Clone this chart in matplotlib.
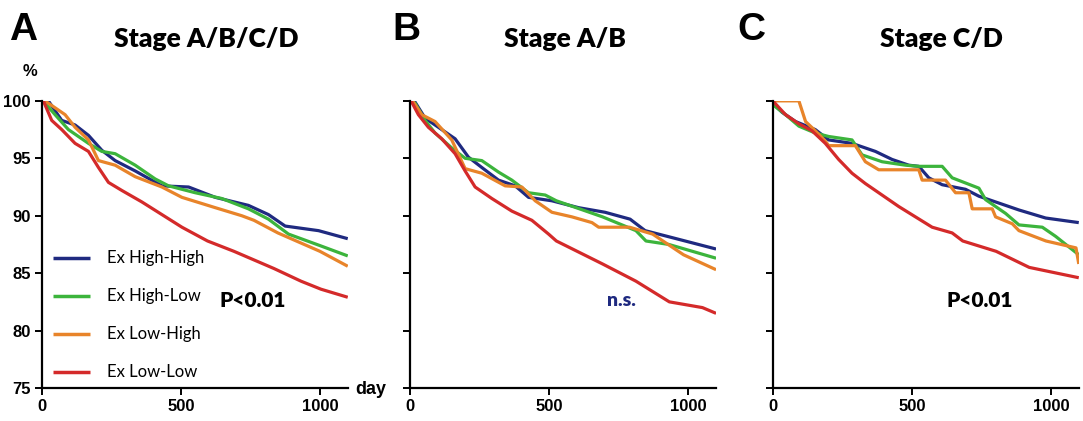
import matplotlib.pyplot as plt

# survival (%), per panel and group
groups = ['Ex High-High', 'Ex High-Low', 'Ex Low-High', 'Ex Low-Low']
colors = ['#1f2a80', '#3cb43c', '#e8842a', '#d42a2a']

a_days = {
    'Ex High-High': [0, 24, 72, 120, 168, 216, 264, 336, 432, 528, 624, 743, 815, 875, 995, 1100],
    'Ex High-Low': [0, 12, 48, 96, 168, 216, 264, 336, 408, 456, 552, 647, 743, 815, 887, 1000, 1100],
    'Ex Low-High': [0, 12, 48, 84, 120, 168, 204, 264, 336, 432, 504, 624, 719, 763, 849, 1000, 1100],
    'Ex Low-Low': [0, 6, 36, 72, 120, 168, 204, 240, 288, 360, 432, 504, 596, 691, 835, 932, 1004, 1100],
}
a_surv = {
    'Ex High-High': [100, 100, 98.3, 97.9, 97.0, 95.7, 94.8, 93.9, 92.6, 92.5, 91.6, 90.9, 90.1, 89.1, 88.7, 88.0],
    'Ex High-Low': [100, 99.8, 98.8, 97.5, 96.3, 95.6, 95.4, 94.4, 93.2, 92.6, 92.0, 91.5, 90.6, 89.7, 88.4, 87.4, 86.5],
    'Ex Low-High': [100, 100, 99.4, 98.8, 97.7, 96.6, 94.8, 94.4, 93.4, 92.5, 91.6, 90.7, 90.0, 89.6, 88.5, 86.9, 85.6],
    'Ex Low-Low': [100, 100, 98.3, 97.5, 96.3, 95.6, 94.2, 92.9, 92.2, 91.2, 90.1, 89.0, 87.8, 86.9, 85.4, 84.3, 83.6, 82.9],
}

b_days = {
    'Ex High-High': [0, 18, 54, 102, 162, 210, 258, 318, 378, 426, 510, 606, 701, 791, 845, 941, 1100],
    'Ex High-Low': [0, 18, 54, 90, 150, 198, 258, 318, 366, 426, 486, 526, 692, 812, 848, 930, 1100],
    'Ex Low-High': [0, 12, 42, 90, 150, 198, 258, 342, 402, 450, 510, 582, 654, 678, 789, 872, 983, 1100],
    'Ex Low-Low': [0, 6, 30, 66, 114, 162, 198, 234, 294, 366, 438, 498, 526, 692, 812, 932, 1051, 1100],
}
b_surv = {
    'Ex High-High': [100, 99.9, 98.5, 97.7, 96.7, 95.1, 94.2, 93.1, 92.6, 91.6, 91.3, 90.7, 90.3, 89.7, 88.7, 88.1, 87.1],
    'Ex High-Low': [100, 99.8, 98.3, 97.2, 95.9, 95.0, 94.8, 93.8, 93.1, 92.0, 91.8, 91.3, 89.9, 88.7, 87.8, 87.5, 86.3],
    'Ex Low-High': [100, 99.9, 98.8, 98.2, 96.6, 94.1, 93.7, 92.6, 92.5, 91.3, 90.3, 89.9, 89.4, 89.0, 89.0, 88.4, 86.6, 85.3],
    'Ex Low-Low': [100, 99.9, 98.8, 97.7, 96.7, 95.4, 93.9, 92.5, 91.5, 90.4, 89.6, 88.4, 87.8, 85.8, 84.3, 82.5, 82.0, 81.5],
}

c_days = {
    'Ex High-High': [0, 4, 34, 82, 153, 201, 285, 369, 429, 489, 525, 561, 609, 693, 741, 813, 885, 981, 1100],
    'Ex High-Low': [0, 4, 46, 94, 153, 201, 285, 321, 393, 477, 525, 609, 645, 741, 765, 837, 885, 969, 1017, 1100],
    'Ex Low-High': [0, 94, 118, 153, 189, 201, 297, 333, 381, 525, 537, 621, 657, 705, 717, 789, 801, 861, 885, 982, 1090, 1100],
    'Ex Low-Low': [0, 4, 46, 94, 141, 189, 237, 285, 333, 381, 453, 513, 573, 645, 683, 803, 922, 1100],
}
c_surv = {
    'Ex High-High': [100, 99.7, 99.0, 98.2, 97.5, 96.6, 96.3, 95.6, 94.9, 94.4, 94.3, 93.3, 92.7, 92.3, 91.7, 91.1, 90.5, 89.8, 89.4],
    'Ex High-Low': [100, 99.6, 98.8, 97.8, 97.2, 96.9, 96.6, 95.3, 94.7, 94.4, 94.3, 94.3, 93.3, 92.4, 91.4, 90.2, 89.2, 89.0, 88.2, 86.6],
    'Ex Low-High': [100, 100, 98.2, 97.4, 96.5, 96.1, 96.1, 94.7, 94.0, 94.0, 93.1, 93.1, 92.0, 92.0, 90.6, 90.6, 89.9, 89.3, 88.7, 87.8, 87.2, 85.8],
    'Ex Low-Low': [100, 99.9, 98.8, 98.0, 97.4, 96.3, 94.9, 93.7, 92.8, 92.0, 90.8, 89.9, 89.0, 88.5, 87.8, 86.9, 85.5, 84.6],
}

panels = [
    ('A', 'Stage A/B/C/D', a_days, a_surv, 'P<0.01', 'black'),
    ('B', 'Stage A/B', b_days, b_surv, 'n.s.', '#1f2a80'),
    ('C', 'Stage C/D', c_days, c_surv, 'P<0.01', 'black'),
]

num_font = ['Liberation Sans Narrow', 'Liberation Sans', 'DejaVu Sans']
txt_font = ['Lato', 'DejaVu Sans']

fig = plt.figure(figsize=(10.83, 4.21), dpi=100)
lefts = [0.0385, 0.3786, 0.7135]
letter_x = [0.021, 0.375, 0.694]
title_x = [0.1907, 0.522, 0.869]

for i, (letter, title, days, surv, ptxt, pcol) in enumerate(panels):
    ax = fig.add_axes([lefts[i], 0.0784, 0.2826, 0.682])
    for g, c in zip(groups, colors):
        ax.plot(days[g], surv[g], color=c, lw=2.3, label=g, solid_capstyle='butt')
    ax.set_xlim(0, 1100)
    ax.set_ylim(75, 100)
    ax.set_xticks([0, 500, 1000])
    ax.set_yticks([75, 80, 85, 90, 95, 100])
    for s in ['top', 'right']:
        ax.spines[s].set_visible(False)
    for s in ['left', 'bottom']:
        ax.spines[s].set_linewidth(1.6)
    ax.tick_params(width=1.4, length=5, labelsize=12, pad=3)
    for t in ax.get_xticklabels() + ax.get_yticklabels():
        t.set_family(num_font)
        t.set_fontweight('bold')
    if i > 0:
        ax.set_yticklabels([])
    ax.text(760 if i < 2 else 743, 82.6, ptxt, color=pcol, fontsize=15 if i != 1 else 14,
            fontweight='heavy', ha='center', va='center', family=txt_font)
    fig.text(letter_x[i], 0.928, letter, fontsize=28, fontweight='bold',
             ha='center', va='center', family=['Liberation Sans', 'DejaVu Sans'])
    fig.text(title_x[i], 0.907, title, fontsize=19, fontweight='heavy',
             ha='center', va='center', family=txt_font)
    if i == 0:
        leg = ax.legend(loc='upper left', bbox_to_anchor=(0.0, 0.52), frameon=False,
                        prop={'family': txt_font, 'size': 12}, labelspacing=1.32,
                        handlelength=2.2, handletextpad=1.0, borderaxespad=0.3)
        for h in leg.get_lines():
            h.set_linewidth(2.5)

fig.text(0.028, 0.83, '%', fontsize=12, fontweight='bold', ha='center', va='center', family=num_font)
fig.text(0.342, 0.076, 'day', fontsize=13, fontweight='bold', ha='center', va='center', family=num_font)

fig.savefig('out.png', dpi=100, facecolor='white')
